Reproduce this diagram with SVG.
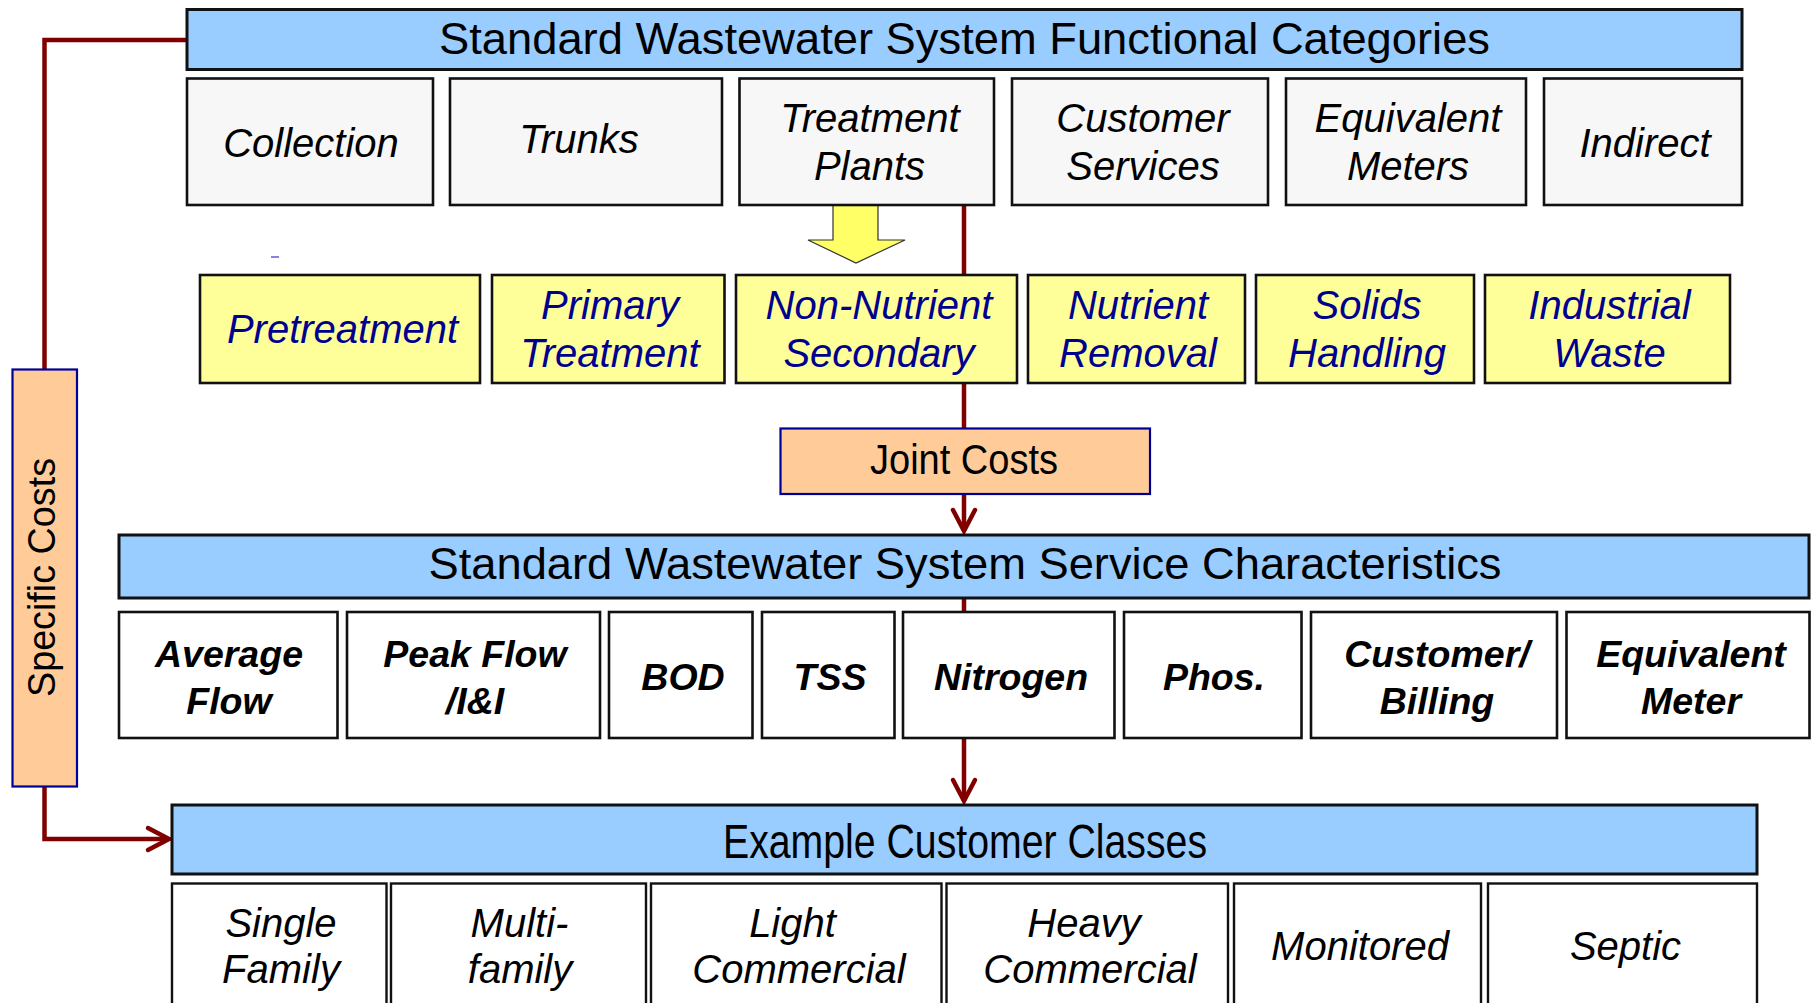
<svg xmlns="http://www.w3.org/2000/svg" width="1811" height="1003" viewBox="0 0 1811 1003">
<style>
  .bar { fill: #99ccff; stroke: #111; stroke-width: 3; }
  .cat { fill: #f7f7f7; stroke: #111; stroke-width: 2.6; }
  .yel { fill: #ffff99; stroke: #111; stroke-width: 2.6; }
  .svc { fill: #ffffff; stroke: #111; stroke-width: 2.6; }
  .cls { fill: #ffffff; stroke: #111; stroke-width: 2.4; }
  .cost { fill: #ffcc99; stroke: #000099; stroke-width: 2.2; }
  .conn { fill: none; stroke: #800000; stroke-width: 4.5; }
  text { font-family: "Liberation Sans", Arial, sans-serif; text-anchor: middle; fill: #000; }
  .title { font-size: 45px; }
  .t1 { font-size: 40px; font-style: italic; }
  .t2 { font-size: 40px; font-style: italic; fill: #000090; }
  .t3 { font-size: 37.5px; font-style: italic; font-weight: bold; }
  .t4 { font-size: 40px; font-style: italic; }
</style>
<defs>
  <marker id="arr" markerUnits="userSpaceOnUse" orient="auto" refX="0" refY="0" markerWidth="30" markerHeight="30" viewBox="-25 -15 30 30" overflow="visible">
    <path d="M-21,-11 L0,0 L-21,11" fill="none" stroke="#800000" stroke-width="4.5" stroke-linecap="round" stroke-linejoin="miter"/>
  </marker>
</defs>

<g id="connectors">
  <path class="conn" d="M964,205 V429"/>
  <path class="conn" d="M964,494 V531" marker-end="url(#arr)"/>
  <path class="conn" d="M964,598 V801" marker-end="url(#arr)"/>
  <path class="conn" d="M187,40 H44.5 V369"/>
  <path class="conn" d="M44.5,786 V839 H169" marker-end="url(#arr)"/>
  <polygon id="yellow-arrow" points="833,205 878,205 878,240 905,240 856,263 808,240 833,240" fill="#ffff66" stroke="#333" stroke-width="1.2"/>
  <line x1="271" y1="257" x2="279" y2="257" stroke="#3333cc" stroke-width="1.2"/>
</g>

<g id="title-functional">
  <rect class="bar" x="187" y="9.5" width="1555" height="60"/>
  <text class="title" x="964.5" y="53.5" textLength="1051" lengthAdjust="spacingAndGlyphs">Standard Wastewater System Functional Categories</text>
</g>

<g id="cat-collection">
  <rect class="cat" x="187" y="78.5" width="246" height="126.5"/>
  <text class="t1" x="311" y="157">Collection</text>
</g>
<g id="cat-trunks">
  <rect class="cat" x="450" y="78.5" width="272" height="126.5"/>
  <text class="t1" x="579" y="153">Trunks</text>
</g>
<g id="cat-treatment">
  <rect class="cat" x="739.5" y="78.5" width="254.5" height="126.5"/>
  <text class="t1" x="870" y="132">Treatment</text>
  <text class="t1" x="869.5" y="180">Plants</text>
</g>
<g id="cat-customer">
  <rect class="cat" x="1012" y="78.5" width="256" height="126.5"/>
  <text class="t1" x="1143" y="132">Customer</text>
  <text class="t1" x="1143" y="180">Services</text>
</g>
<g id="cat-equivalent">
  <rect class="cat" x="1286" y="78.5" width="240" height="126.5"/>
  <text class="t1" x="1408" y="132">Equivalent</text>
  <text class="t1" x="1408" y="180">Meters</text>
</g>
<g id="cat-indirect">
  <rect class="cat" x="1544" y="78.5" width="198" height="126.5"/>
  <text class="t1" x="1645" y="157">Indirect</text>
</g>

<g id="tp-pretreatment">
  <rect class="yel" x="200" y="275" width="280" height="108"/>
  <text class="t2" x="342.5" y="343">Pretreatment</text>
</g>
<g id="tp-primary">
  <rect class="yel" x="492" y="275" width="232.5" height="108"/>
  <text class="t2" x="610" y="318.5">Primary</text>
  <text class="t2" x="610" y="366.5">Treatment</text>
</g>
<g id="tp-nonnutrient">
  <rect class="yel" x="736" y="275" width="281" height="108"/>
  <text class="t2" x="879" y="318.5">Non-Nutrient</text>
  <text class="t2" x="879" y="366.5">Secondary</text>
</g>
<g id="tp-nutrient">
  <rect class="yel" x="1028" y="275" width="217" height="108"/>
  <text class="t2" x="1138" y="318.5">Nutrient</text>
  <text class="t2" x="1138" y="366.5">Removal</text>
</g>
<g id="tp-solids">
  <rect class="yel" x="1256" y="275" width="218" height="108"/>
  <text class="t2" x="1367" y="318.5">Solids</text>
  <text class="t2" x="1367" y="366.5">Handling</text>
</g>
<g id="tp-industrial">
  <rect class="yel" x="1485" y="275" width="245" height="108"/>
  <text class="t2" x="1609.5" y="318.5">Industrial</text>
  <text class="t2" x="1609.5" y="366.5">Waste</text>
</g>

<g id="joint-costs">
  <rect class="cost" x="780.5" y="428.5" width="369.5" height="65.5"/>
  <text x="964" y="473.5" font-size="42" textLength="188" lengthAdjust="spacingAndGlyphs">Joint Costs</text>
</g>

<g id="specific-costs">
  <rect class="cost" x="12.5" y="369.5" width="64.5" height="417"/>
  <text transform="translate(55,577.5) rotate(-90)" x="0" y="0" font-family="'Open Sans', 'DejaVu Sans', sans-serif" font-size="39" textLength="239" lengthAdjust="spacingAndGlyphs">Specific Costs</text>
</g>

<g id="title-service">
  <rect class="bar" x="119" y="535" width="1690" height="63"/>
  <text class="title" x="965" y="579" textLength="1073" lengthAdjust="spacingAndGlyphs">Standard Wastewater System Service Characteristics</text>
</g>

<g id="svc-average">
  <rect class="svc" x="119" y="612" width="218.5" height="126"/>
  <text class="t3" x="229" y="667">Average</text>
  <text class="t3" x="229" y="713.5">Flow</text>
</g>
<g id="svc-peak">
  <rect class="svc" x="347" y="612" width="253" height="126"/>
  <text class="t3" x="475" y="667">Peak Flow</text>
  <text class="t3" x="475" y="713.5">/I&amp;I</text>
</g>
<g id="svc-bod">
  <rect class="svc" x="609" y="612" width="143.5" height="126"/>
  <text class="t3" x="683" y="690">BOD</text>
</g>
<g id="svc-tss">
  <rect class="svc" x="762" y="612" width="132.5" height="126"/>
  <text class="t3" x="830" y="690">TSS</text>
</g>
<g id="svc-nitrogen">
  <rect class="svc" x="903" y="612" width="211.5" height="126"/>
  <text class="t3" x="1011" y="690">Nitrogen</text>
</g>
<g id="svc-phos">
  <rect class="svc" x="1124" y="612" width="177.5" height="126"/>
  <text class="t3" x="1214" y="690">Phos.</text>
</g>
<g id="svc-customer">
  <rect class="svc" x="1311" y="612" width="246" height="126"/>
  <text class="t3" x="1437" y="667">Customer/</text>
  <text class="t3" x="1437" y="713.5">Billing</text>
</g>
<g id="svc-equivalent">
  <rect class="svc" x="1566.5" y="612" width="243" height="126"/>
  <text class="t3" x="1691" y="667">Equivalent</text>
  <text class="t3" x="1691" y="713.5">Meter</text>
</g>

<g id="title-classes">
  <rect class="bar" x="172" y="805" width="1585" height="69"/>
  <text x="965" y="858" font-size="48" textLength="484" lengthAdjust="spacingAndGlyphs">Example Customer Classes</text>
</g>

<g id="cls-single">
  <rect class="cls" x="172" y="883.5" width="214.5" height="140"/>
  <text class="t4" x="281" y="937">Single</text>
  <text class="t4" x="281" y="983">Family</text>
</g>
<g id="cls-multi">
  <rect class="cls" x="391" y="883.5" width="255" height="140"/>
  <text class="t4" x="519.5" y="937">Multi-</text>
  <text class="t4" x="520" y="983">family</text>
</g>
<g id="cls-light">
  <rect class="cls" x="651" y="883.5" width="290.5" height="140"/>
  <text class="t4" x="792.5" y="937">Light</text>
  <text class="t4" x="799" y="983">Commercial</text>
</g>
<g id="cls-heavy">
  <rect class="cls" x="946.5" y="883.5" width="281.5" height="140"/>
  <text class="t4" x="1084" y="937">Heavy</text>
  <text class="t4" x="1090" y="983">Commercial</text>
</g>
<g id="cls-monitored">
  <rect class="cls" x="1234" y="883.5" width="247" height="140"/>
  <text class="t4" x="1360" y="960">Monitored</text>
</g>
<g id="cls-septic">
  <rect class="cls" x="1488" y="883.5" width="269" height="140"/>
  <text class="t4" x="1625.5" y="960">Septic</text>
</g>
</svg>
